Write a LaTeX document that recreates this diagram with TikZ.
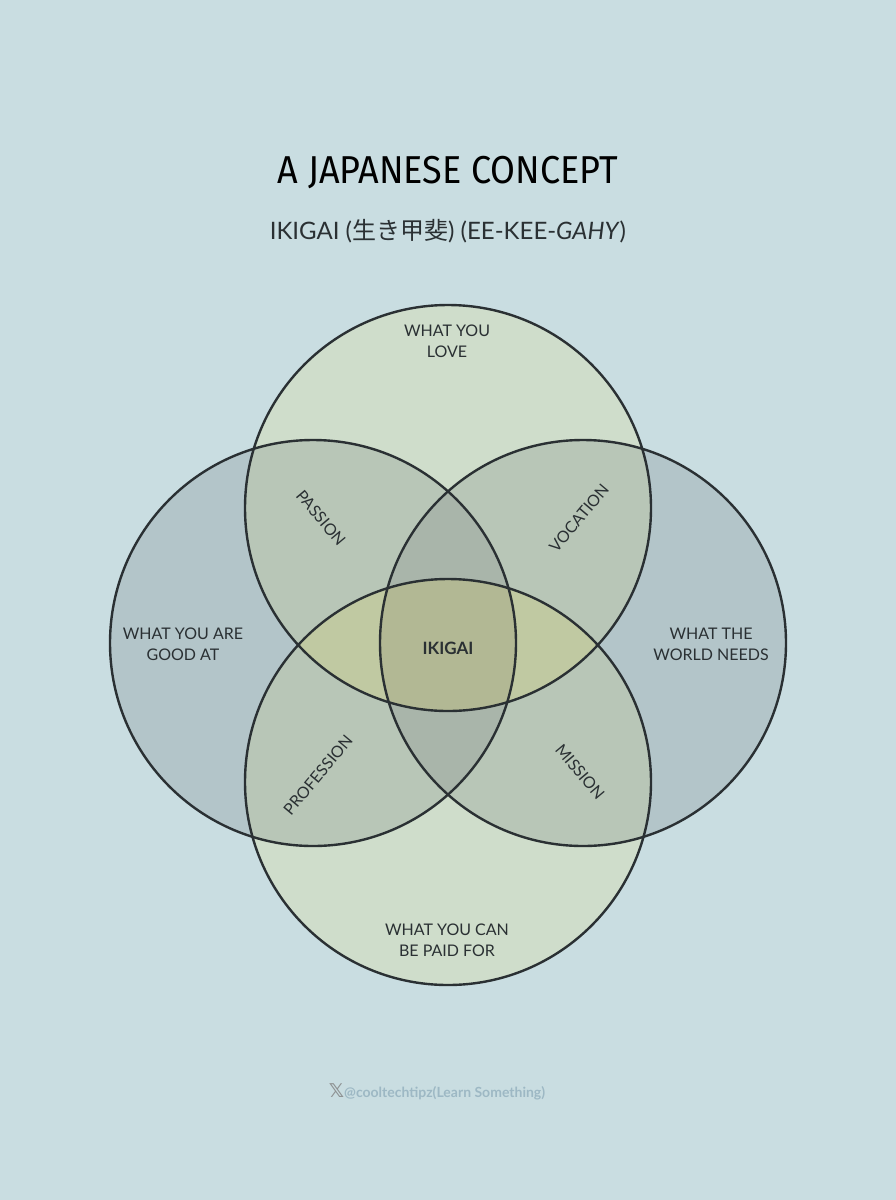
\documentclass[tikz,border=0pt]{standalone}
\usepackage{fontspec}
\setmainfont{Lato}
\newfontfamily\titlefont{Fira Sans}
\newfontfamily\cjkfont{Noto Sans CJK JP}
\newfontfamily\dvfont{DejaVu Sans}
\definecolor{bg}{HTML}{C9DDE1}
\definecolor{side}{HTML}{B3C5C9}
\definecolor{vert}{HTML}{CFDDCB}
\definecolor{tl}{HTML}{B8C6B7}
\definecolor{lens}{HTML}{C0C9A2}
\definecolor{side2}{HTML}{A9B5AA}
\definecolor{core}{HTML}{B2B894}
\definecolor{ink}{HTML}{2A3033}
\definecolor{foot}{HTML}{9DB8C4}
\begin{document}
\begin{tikzpicture}[x=1pt,y=-1pt,
  lab/.style={font=\fontsize{16}{21}\selectfont,text=ink,align=center}]
\useasboundingbox (0,0) rectangle (896,1200);
\fill[bg] (0,0) rectangle (896,1200);
\def\R{203}
\coordinate (T) at (448,508);
\coordinate (B) at (448,782);
\coordinate (L) at (313,643);
\coordinate (Rt) at (583,643);
\fill[side] (L) circle (\R); \fill[side] (Rt) circle (\R);
\fill[vert] (T) circle (\R); \fill[vert] (B) circle (\R);
\begin{scope}\clip (T) circle (\R); \fill[tl] (L) circle (\R); \fill[tl] (Rt) circle (\R);\end{scope}
\begin{scope}\clip (B) circle (\R); \fill[tl] (L) circle (\R); \fill[tl] (Rt) circle (\R);\end{scope}
\begin{scope}\clip (T) circle (\R); \fill[lens] (B) circle (\R);\end{scope}
\begin{scope}\clip (L) circle (\R); \fill[side2] (Rt) circle (\R);\end{scope}
\begin{scope}\clip (L) circle (\R); \clip (Rt) circle (\R); \clip (T) circle (\R); \fill[core] (B) circle (\R);\end{scope}
\foreach \c in {T,B,L,Rt} \draw[ink,line width=2.4pt] (\c) circle (\R);
\node[font=\titlefont\fontsize{36}{40}\selectfont,text=black,yscale=1.08] (title) at (448,173) {A JAPANESE CONCEPT};
\node[font=\fontsize{24}{28}\selectfont,text=ink] (sub) at (448,231) {IKIGAI ({\cjkfont 生き甲斐}) (EE-KEE-\textit{GAHY})};
\node[lab] (love) at (447,341) {WHAT YOU\\LOVE};
\node[lab] (good) at (183,644) {WHAT YOU ARE\\GOOD AT};
\node[lab] (world) at (711,644) {WHAT THE\\WORLD NEEDS};
\node[lab] (paid) at (447,940) {WHAT YOU CAN\\BE PAID FOR};
\node[lab,rotate=-50] (passion) at (321,518) {PASSION};
\node[lab,rotate=50] (vocation) at (579,518) {VOCATION};
\node[lab,rotate=50] (profession) at (318,775) {PROFESSION};
\node[lab,rotate=-50] (mission) at (580,772) {MISSION};
\node[lab,font=\bfseries\fontsize{17}{20}\selectfont] (ikigai) at (448,648) {IKIGAI};
\node[font=\fontsize{14}{16}\selectfont\bfseries,text=foot] (foot) at (437,1092) {{\dvfont\fontsize{19}{19}\selectfont\color{gray!80!bg}𝕏}@cooltechtipz(Learn Something)};
\end{tikzpicture}
\end{document}
